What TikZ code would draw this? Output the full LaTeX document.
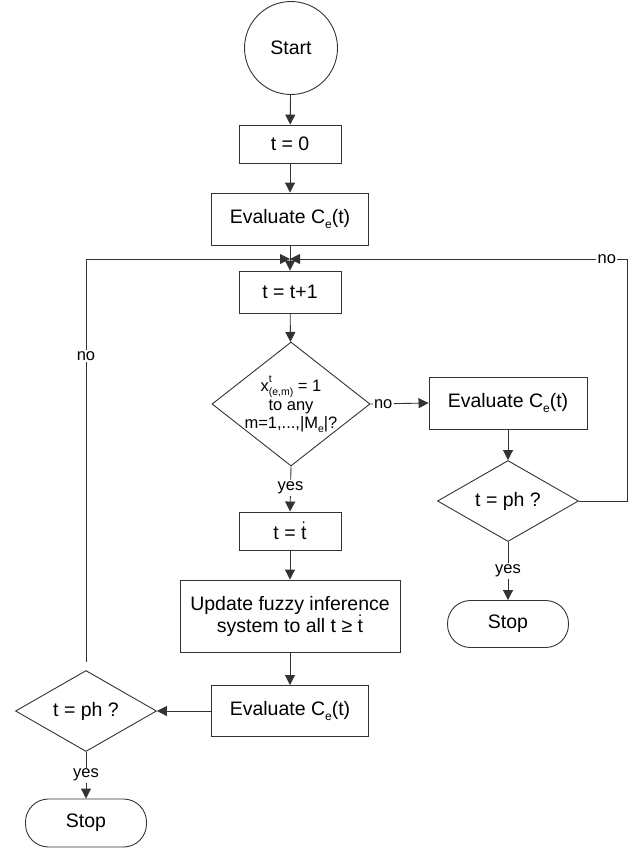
\documentclass[tikz,border=0pt]{standalone}
\usepackage{fontspec}
\setmainfont{Liberation Sans}
\usetikzlibrary{shapes.geometric,arrows.meta}
\newcommand\sbx[1]{\raisebox{-0.22em}{\fontsize{12}{12}\selectfont #1}}
\newcommand\sbs[1]{\raisebox{-0.22em}{\fontsize{10.5}{10.5}\selectfont #1}}
\newcommand\tdt{\makebox[0pt][l]{\hspace{0.03em}\raisebox{0.8em}{\fontsize{15}{15}\selectfont .}}t}
\begin{document}
\begin{tikzpicture}[x=1pt,y=-1pt,
  ln/.style={draw=black!80, line width=0.9pt},
  arr/.style={ln, -{Triangle[length=10pt,width=10pt]}},
  box/.style={draw=black!80, line width=0.9pt, rectangle, inner sep=0pt, align=center, font=\fontsize{19.5}{22}\selectfont},
  dia/.style={draw=black!80, line width=0.9pt, diamond, inner sep=0pt, align=center, font=\fontsize{19.5}{22}\selectfont},
  term/.style={box, rounded corners=23pt},
  lbl/.style={fill=white, inner sep=1.5pt, font=\fontsize{16.5}{18}\selectfont}
]
\useasboundingbox (0,0) rectangle (635,849);
% nodes
\node[box, circle, minimum size=93pt] (start) at (291,48) {Start};
\node[box, minimum width=102pt, minimum height=38pt] (t0) at (290,144) {t = 0};
\node[box, minimum width=157pt, minimum height=52pt] (ev1) at (290,219) {Evaluate C\sbx{e}(t)};
\coordinate (J) at (290,259);
\node[box, minimum width=102pt, minimum height=42pt] (tp1) at (290,292) {t = t+1};
\node[dia, minimum width=158pt, minimum height=124pt, shape aspect=1.27, inner sep=-4pt,
      font=\fontsize{16.5}{18.5}\selectfont] (d1) at (291,404)
  {x\rlap{\raisebox{0.55em}{\fontsize{10.5}{10.5}\selectfont t}}\sbs{(e,m)} = 1\\to any\\m=1,...,|M\sbs{e}|?};
\node[box, minimum width=158pt, minimum height=52pt] (ev2) at (508,403) {Evaluate C\sbx{e}(t)};
\node[dia, minimum width=141pt, minimum height=81pt, shape aspect=1.74] (d2) at (508,501) {t = ph ?};
\node[term, minimum width=121pt, minimum height=47pt] (stop2) at (508,624) {Stop};
\coordinate (R) at (627,259);
\node[box, minimum width=102pt, minimum height=38pt] (tdot) at (290,531) {t = \tdt};
\node[box, minimum width=220pt, minimum height=72pt] (upd) at (290,616) {Update fuzzy inference\\system to all t ≥ \tdt};
\node[box, minimum width=157pt, minimum height=51pt] (ev3) at (290,711) {Evaluate C\sbx{e}(t)};
\node[dia, minimum width=141pt, minimum height=81pt, shape aspect=1.74] (d3) at (86,711) {t = ph ?};
\node[term, minimum width=121pt, minimum height=48pt] (stop3) at (86,823) {Stop};
\coordinate (L) at (86,259);
% connectors
\draw[arr] (start) -- (t0);
\draw[arr] (t0) -- (ev1);
\draw[ln] (ev1) -- (J);
\draw[arr] (J) -- (tp1);
\draw[arr] (tp1) -- (d1);
\draw[arr] (d1.east) -- node[lbl, pos=0.22] {no} (ev2.west);
\draw[arr] (ev2) -- (d2);
\draw[arr] (d2.south) -- node[lbl, pos=0.5] {yes} (stop2.north);
\draw[ln] (d2.east) -| (R);
\draw[arr] (R) -- node[lbl, pos=0.06] {no} (J);
\draw[arr] (d1.south) -- node[lbl, pos=0.48] {yes} (tdot.north);
\draw[arr] (tdot) -- (upd);
\draw[arr] (upd) -- (ev3);
\draw[arr] (ev3.west) -- (d3.east);
\draw[arr] (d3.south) -- node[lbl, pos=0.5] {yes} (stop3.north);
\draw[ln] ([yshift=8pt]d3.north) -- node[lbl, pos=0.76] {no} (L);
\draw[arr] (L) -- (J);
\end{tikzpicture}
\end{document}
